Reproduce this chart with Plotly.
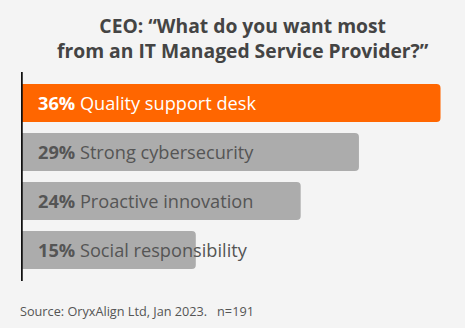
import plotly.graph_objects as go

categories = ["Quality support desk", "Strong cybersecurity", "Proactive innovation", "Social responsibility"]
values = [36, 29, 24, 15]
colors = ["#ff6600", "#acacac", "#acacac", "#acacac"]
label_colors = ["#ffffff", "#555555", "#555555", "#555555"]
title_lines = ["CEO: \u201cWhat do you want most", "from an IT Managed Service Provider?\u201d"]
source_text = "Source: OryxAlign Ltd, Jan 2023.   n=191"

FONT = "Open Sans"
ypos = list(range(len(categories)))

fig = go.Figure()
fig.add_trace(go.Bar(
    x=values, y=ypos, orientation="h",
    marker=dict(color=colors, line=dict(width=0), cornerradius=4),
    width=0.776, hoverinfo="skip", showlegend=False,
))

for i, (c, v) in enumerate(zip(categories, values)):
    fig.add_annotation(
        x=0, y=i, xref="x", yref="y", xanchor="left", yanchor="middle",
        xshift=15, showarrow=False,
        text=f"<b>{v}%</b> {c}",
        font=dict(family=FONT, size=18.2, color=label_colors[i]),
    )

fig.add_shape(type="line", xref="x", yref="paper", x0=0, x1=0, y0=0, y1=1,
              line=dict(color="#111111", width=3.5), layer="above")

fig.add_annotation(
    x=0.5, y=0, xref="paper", yref="paper", xanchor="center", yanchor="bottom",
    yshift=209 + 72 - 66, showarrow=False,
    text="<b>" + title_lines[0] + "<br>" + title_lines[1] + "</b>",
    font=dict(family=FONT, size=19.3, color="#444444"), align="center",
)
fig.add_annotation(
    x=0, y=0, xref="paper", yref="paper", xanchor="left", yanchor="middle",
    xshift=-3, yshift=-30, showarrow=False,
    text=source_text,
    font=dict(family=FONT, size=12.7, color="#555555"),
)

fig.update_layout(
    width=465, height=328,
    margin=dict(l=21, r=0, t=72, b=47),
    paper_bgcolor="#f4f4f4", plot_bgcolor="#f4f4f4",
    xaxis=dict(range=[0, 38.1], visible=False, fixedrange=True),
    yaxis=dict(range=[3.633, -0.633], visible=False, fixedrange=True),
    bargap=0.2,
)
fig.write_html("out.html")
